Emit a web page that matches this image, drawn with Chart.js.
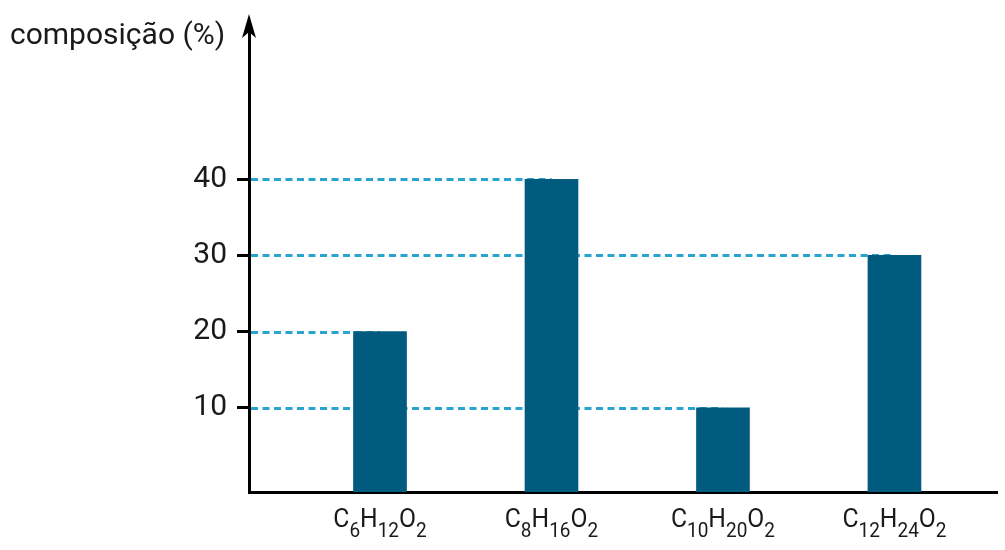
<!DOCTYPE html>
<html>
<head>
<meta charset="utf-8">
<script src="https://cdn.jsdelivr.net/npm/chart.js@4"></script>
<style>
  html,body{margin:0;padding:0;background:#fff;}
  #wrap{width:1005px;height:550px;position:relative;}
</style>
</head>
<body>
<div id="wrap"><canvas id="c"></canvas></div>
<script>
const categories = ["C6H12O2", "C8H16O2", "C10H20O2", "C12H24O2"];
const values = [20, 40, 10, 30];
const yTicks = [10, 20, 30, 40];
const axisTitle = "composição (%)";

const Y_MIN = -1.06, Y_MAX = 59.6;
const X_MIN = 0.236, X_MAX = 4.598;

const decor = {
  id: 'decor',
  beforeDatasetsDraw(chart) {
    const {ctx, chartArea, scales: {x, y}} = chart;
    ctx.save();
    ctx.strokeStyle = '#27a4cf';
    ctx.lineWidth = 2.8;
    ctx.setLineDash([7, 4.5]);
    yTicks.forEach(v => {
      let j = -1;
      values.forEach((val, i) => { if (val === v) j = i; });
      const xe = j >= 0 ? x.getPixelForValue(j + 1) : chartArea.right;
      const py = Math.round(y.getPixelForValue(v)) + 0.5;
      ctx.beginPath();
      ctx.moveTo(chartArea.left + 2, py);
      ctx.lineTo(xe, py);
      ctx.stroke();
    });
    ctx.restore();
  },
  afterDraw(chart) {
    const {ctx, chartArea, scales: {x}} = chart;
    ctx.save();
    // arrow head on y axis
    const ax = chartArea.left;
    ctx.fillStyle = '#000';
    ctx.beginPath();
    ctx.moveTo(ax, 14);
    ctx.lineTo(ax + 7, 38);
    ctx.lineTo(ax, 32);
    ctx.lineTo(ax - 7, 38);
    ctx.closePath();
    ctx.fill();
    // axis title
    ctx.fillStyle = '#1a1a1a';
    ctx.font = '30px Roboto';
    ctx.textBaseline = 'alphabetic';
    ctx.textAlign = 'left';
    ctx.fillText(axisTitle, 10, 44);
    // x labels with subscripts
    const mainFont = '26px Roboto', subFont = '20px Roboto';
    const sx = 0.95;
    categories.forEach((lab, i) => {
      const parts = lab.match(/[A-Za-z]+|\d+/g);
      let w = 0;
      parts.forEach(p => {
        ctx.font = /\d/.test(p) ? subFont : mainFont;
        w += ctx.measureText(p).width;
      });
      const cx = x.getPixelForValue(i + 1);
      ctx.save();
      ctx.translate(cx, 0);
      ctx.scale(sx, 1);
      let px = -w / 2;
      parts.forEach(p => {
        const isSub = /\d/.test(p);
        ctx.font = isSub ? subFont : mainFont;
        ctx.fillText(p, px, isSub ? 537 : 527);
        px += ctx.measureText(p).width;
      });
      ctx.restore();
    });
    ctx.restore();
  }
};

new Chart(document.getElementById('c'), {
  type: 'bar',
  data: {
    datasets: [{
      data: values.map((v, i) => ({x: i + 1, y: v})),
      backgroundColor: '#005b7f',
      borderWidth: 0,
      barThickness: 53,
      base: Y_MIN
    }]
  },
  options: {
    responsive: true,
    maintainAspectRatio: false,
    animation: false,
    events: [],
    layout: {padding: {top: 30, right: 8, left: 0, bottom: 0}},
    plugins: {legend: {display: false}, tooltip: {enabled: false}},
    scales: {
      x: {
        type: 'linear',
        offset: false,
        min: X_MIN, max: X_MAX,
        grid: {display: false, offset: false},
        border: {display: true, color: '#000', width: 3},
        ticks: {display: false},
        afterFit(s) { s.height = 58; }
      },
      y: {
        type: 'linear',
        min: Y_MIN, max: Y_MAX,
        afterBuildTicks(s) { s.ticks = yTicks.map(v => ({value: v})); },
        afterFit(s) { s.width = 249; },
        grid: {drawOnChartArea: false, drawTicks: true, tickLength: 12, tickWidth: 3, color: '#000', lineWidth: 3},
        border: {display: true, color: '#000', width: 3},
        ticks: {font: {family: 'Roboto', size: 30}, color: '#1a1a1a', padding: 10}
      }
    }
  },
  plugins: [decor]
});
</script>
</body>
</html>
